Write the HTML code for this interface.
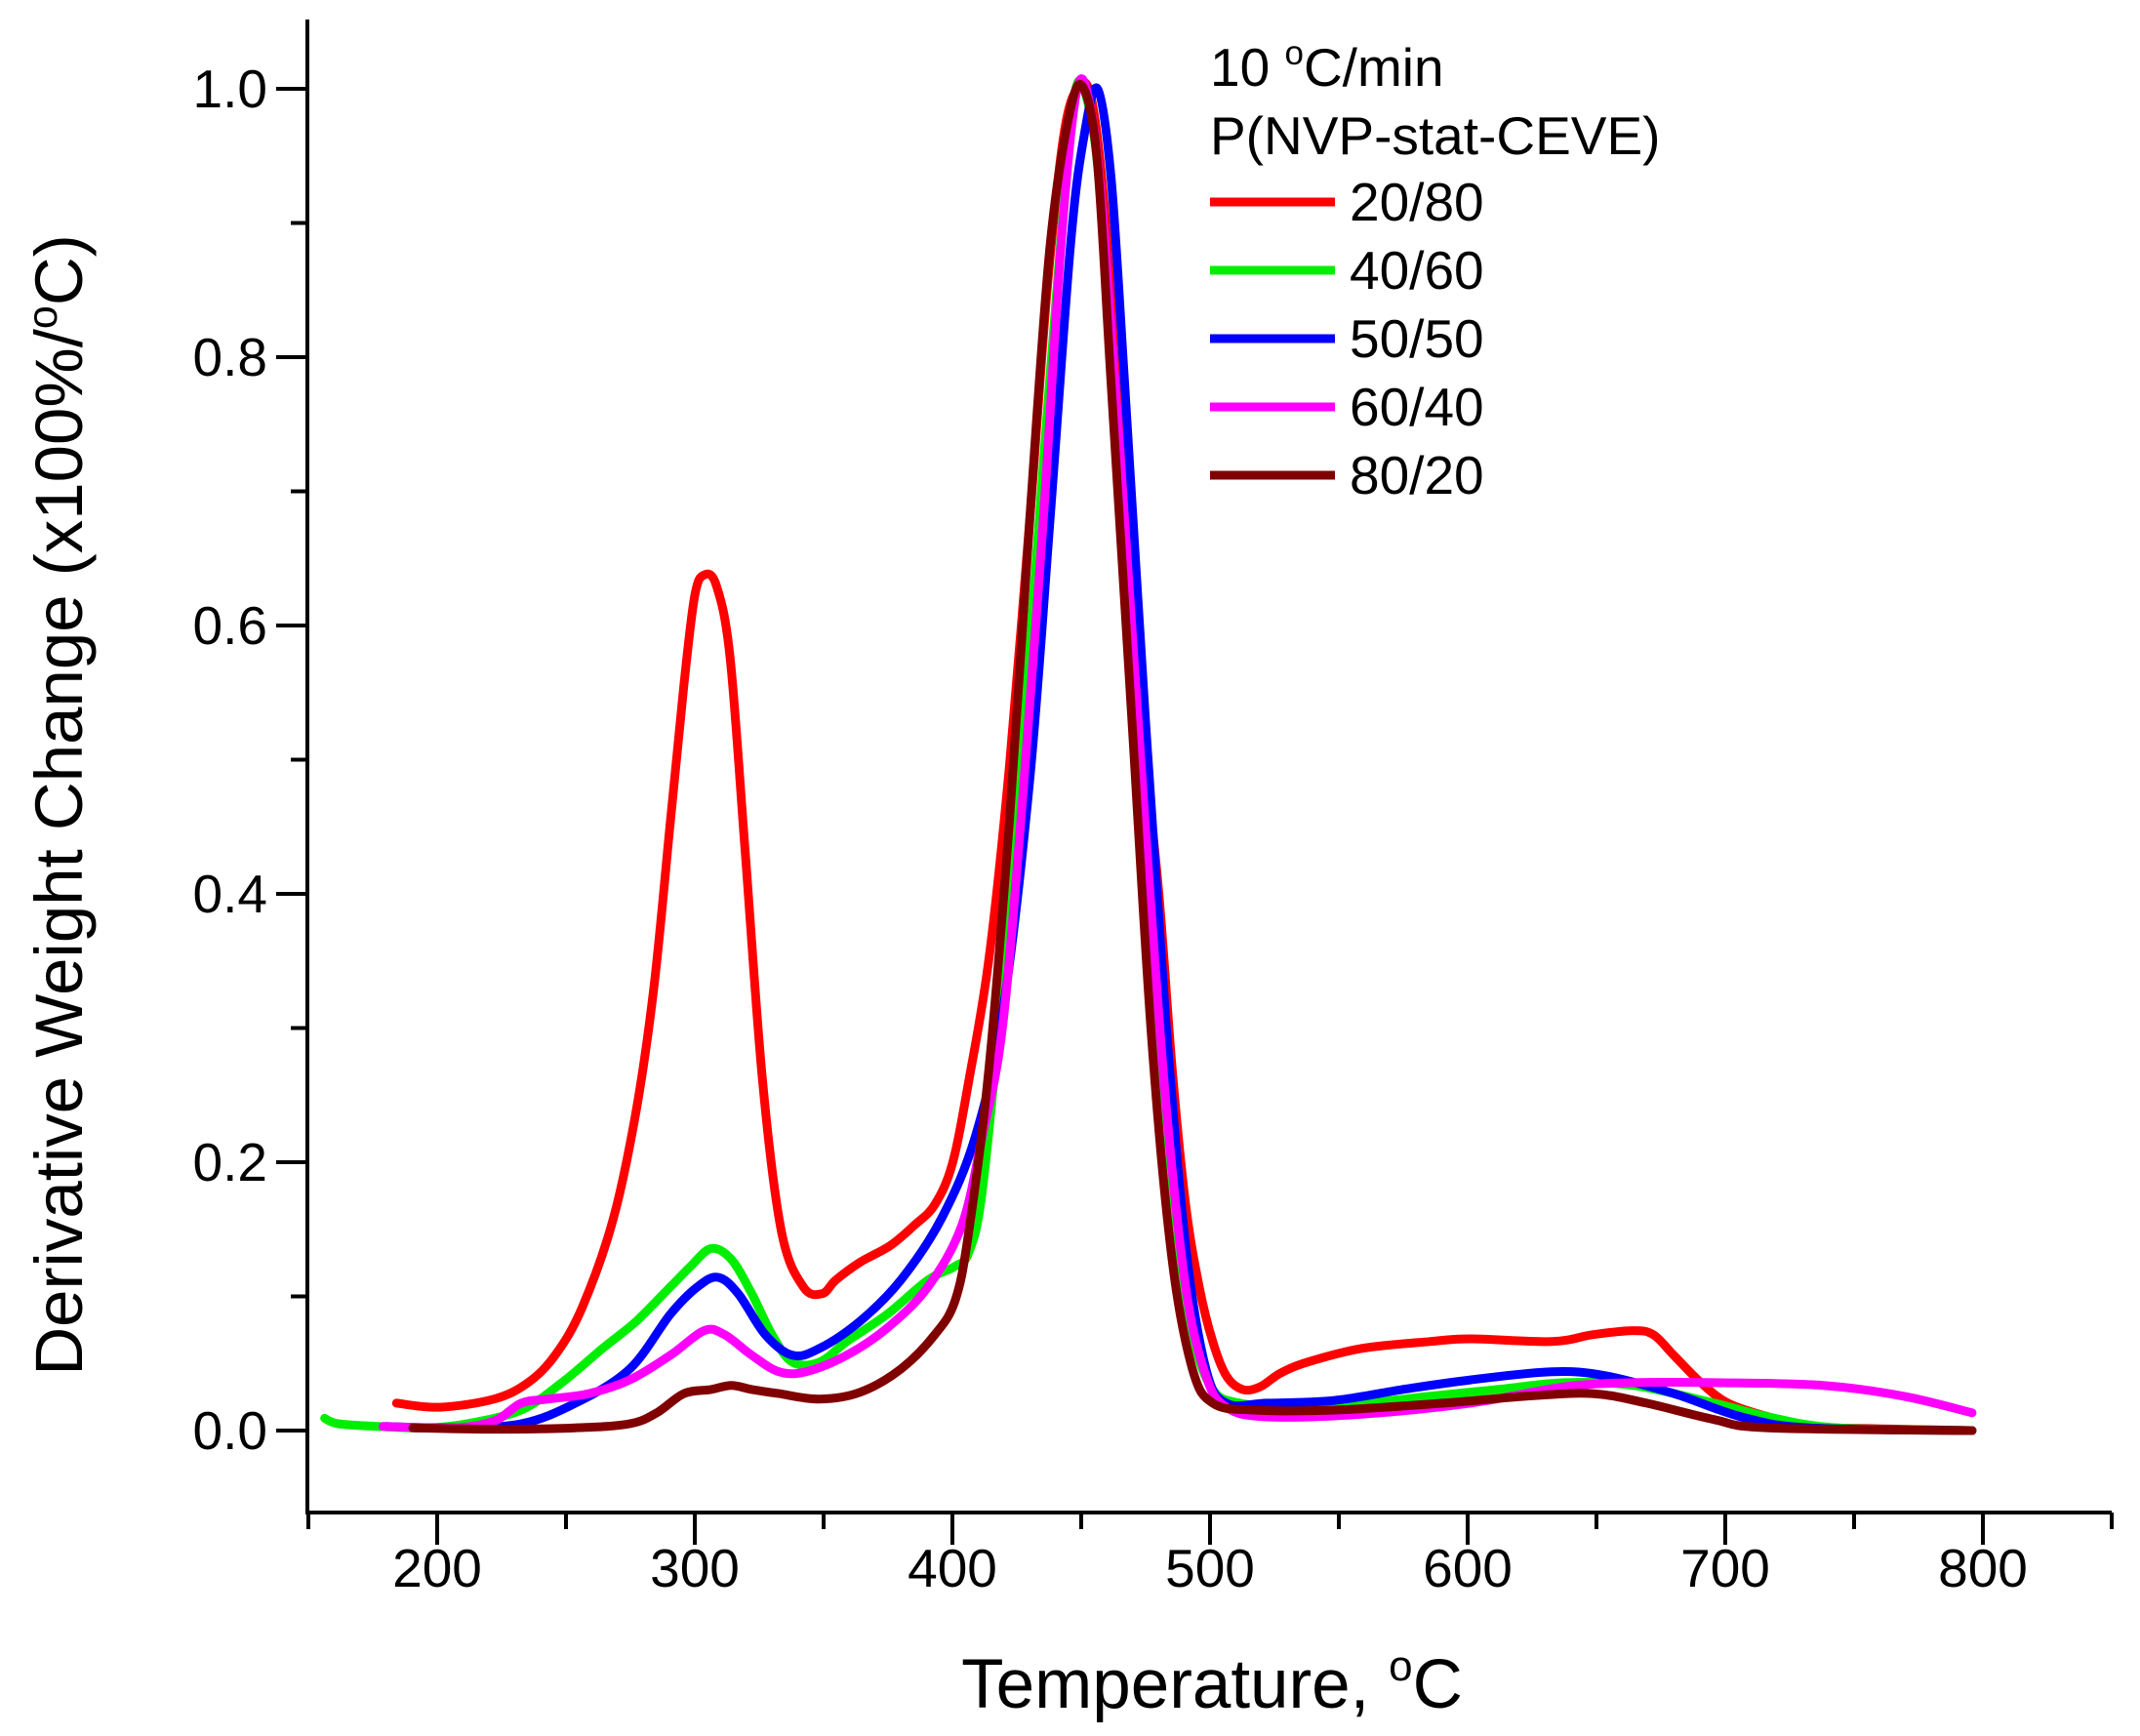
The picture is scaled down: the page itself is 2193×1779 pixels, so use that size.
<!DOCTYPE html>
<html><head><meta charset="utf-8"><style>
html,body{margin:0;padding:0;background:#fff;}
svg{display:block;font-family:"Liberation Sans",Arial,sans-serif;}
</style></head><body>
<svg id="s" width="2193" height="1779" viewBox="0 0 2193 1779" xmlns="http://www.w3.org/2000/svg">
<g stroke="#000" stroke-width="4" fill="none">
<line x1="315" y1="20" x2="315" y2="1552"/>
<line x1="313" y1="1550" x2="2164" y2="1550"/>
</g>
<g id="ticks" stroke="#000" stroke-width="4"></g>
<g id="labels" font-size="55" fill="#000"></g>
<g id="curves" fill="none" stroke-width="9" stroke-linejoin="round" stroke-linecap="round"></g>
<text x="1242" y="1750" font-size="71" text-anchor="middle">Temperature, <tspan font-size="44" dy="-28">o</tspan><tspan dy="28">C</tspan></text>
<text transform="translate(84,825) rotate(-90)" font-size="69" text-anchor="middle">Derivative Weight Change (x100%/<tspan font-size="43" dy="-26">o</tspan><tspan dy="26">C)</tspan></text>
<g font-size="55">
<text x="1240" y="88">10 <tspan font-size="35" dy="-22">o</tspan><tspan dy="22">C/min</tspan></text>
<text x="1240" y="158">P(NVP-stat-CEVE)</text>
</g>
<g id="legend" font-size="55"></g>
</svg>
<script>
var NS="http://www.w3.org/2000/svg";
function el(p,t,a,txt){var e=document.createElementNS(NS,t);for(var k in a)e.setAttribute(k,a[k]);if(txt)e.textContent=txt;p.appendChild(e);return e;}
function X(T){return 448+(T-200)*2.64;}
function Y(v){return 1466-v*1375;}
var tk=document.getElementById('ticks'),lb=document.getElementById('labels');
for(var T=150;T<=850;T+=50){var maj=(T%100==0);el(tk,'line',{x1:X(T),y1:1550,x2:X(T),y2:maj?1583:1567});
 if(maj&&T>=200&&T<=800)el(lb,'text',{x:X(T),y:1626,'text-anchor':'middle'},String(T));}
for(var i=0;i<=10;i++){var v=i/10,maj=(i%2==0);el(tk,'line',{x1:maj?283:298,y1:Y(v),x2:315,y2:Y(v)});
 if(maj)el(lb,'text',{x:274,y:Y(v)+19,'text-anchor':'end'},v.toFixed(1));}
function conv(pts){return pts.map(function(p){var T=200+(p[0]-318)/1.9,v=(1045-p[1])/980;return [X(T),Y(v)];});}
function path(pts){var p=conv(pts),d="M"+p[0][0].toFixed(1)+","+p[0][1].toFixed(1);
 for(var i=0;i<p.length-1;i++){var p0=p[i-1]||p[i],p1=p[i],p2=p[i+1],p3=p[i+2]||p2;
 d+=" C"+(p1[0]+(p2[0]-p0[0])/6).toFixed(1)+","+(p1[1]+(p2[1]-p0[1])/6).toFixed(1)+" "+(p2[0]-(p3[0]-p1[0])/6).toFixed(1)+","+(p2[1]-(p3[1]-p1[1])/6).toFixed(1)+" "+p2[0].toFixed(1)+","+p2[1].toFixed(1);}
 return d;}
var C={
"#ff0000":[[288,1025],[320,1028],[360,1022],[385,1010],[405,990],[425,955],[448,890],[465,810],[478,720],[490,600],[500,500],[508,435],[515,420],[524,428],[534,480],[545,620],[558,790],[572,900],[588,940],[602,945],[612,935],[630,922],[652,910],[670,895],[685,880],[698,850],[710,790],[725,700],[740,560],[755,380],[768,210],[780,100],[790,65],[800,70],[810,150],[820,300],[835,500],[850,650],[860,780],[870,880],[880,940],[890,980],[900,1005],[912,1015],[925,1013],[940,1003],[960,995],[1000,985],[1050,980],[1080,978],[1140,980],[1170,975],[1200,972],[1215,975],[1230,990],[1250,1010],[1270,1025],[1300,1035],[1330,1042],[1400,1044],[1450,1045]],
"#00ee00":[[235,1036],[245,1040],[275,1042],[310,1043],[340,1040],[380,1030],[410,1010],[440,985],[465,965],[490,940],[505,925],[520,912],[535,920],[550,945],[565,975],[580,995],[600,995],[620,980],[650,960],[680,935],[700,925],[710,915],[720,870],[735,720],[750,540],[765,340],[780,150],[788,70],[795,65],[805,120],[815,260],[830,500],[845,720],[860,890],[875,975],[890,1015],[910,1025],[950,1028],[1000,1025],[1050,1020],[1100,1015],[1150,1010],[1200,1012],[1260,1025],[1300,1035],[1350,1043],[1450,1045]],
"#0000ff":[[280,1042],[330,1043],[380,1040],[420,1025],[460,1000],[490,960],[510,940],[525,933],[540,945],[560,975],[580,990],[600,985],[630,965],[660,935],[690,890],[715,830],[735,740],[755,570],[770,380],[785,180],[795,100],[805,65],[815,130],[825,280],[840,520],[855,740],[870,910],[885,1000],[900,1025],[930,1025],[980,1023],[1030,1015],[1080,1008],[1140,1002],[1180,1005],[1230,1018],[1280,1035],[1330,1043],[1450,1045]],
"#ff00ff":[[278,1042],[330,1043],[360,1038],[380,1025],[400,1022],[430,1018],[460,1008],[490,990],[515,972],[530,975],[550,990],[570,1002],[590,1002],[620,990],[650,970],[680,940],[705,895],[720,830],[735,750],[750,580],[765,380],[778,180],[790,65],[800,80],[810,170],[825,380],[840,600],[855,800],[870,940],[885,1005],[900,1028],[930,1035],[1000,1033],[1080,1025],[1150,1013],[1200,1010],[1260,1010],[1340,1012],[1400,1020],[1450,1032]],
"#800000":[[300,1043],[360,1044],[420,1043],[460,1040],[480,1032],[500,1018],[520,1015],[535,1012],[550,1015],[570,1018],[600,1022],[630,1017],[660,1000],[685,975],[700,950],[710,900],[725,780],[740,600],[755,380],[770,180],[785,80],[795,65],[805,120],[815,280],[830,520],[845,760],[860,920],[875,1000],[890,1025],[920,1030],[980,1030],[1060,1025],[1120,1020],[1170,1018],[1210,1025],[1260,1037],[1300,1043],[1450,1045]]
};
var cg=document.getElementById('curves');
for(var c in C)el(cg,'path',{d:path(C[c]),stroke:c});
var lg=document.getElementById('legend'),names=["20/80","40/60","50/50","60/40","80/20"],cols=Object.keys(C);
for(var i=0;i<5;i++){var y=207+i*70;el(lg,'line',{x1:1240,y1:y,x2:1368,y2:y,stroke:cols[i],'stroke-width':9});
 el(lg,'text',{x:1383,y:y+19},names[i]);}
</script>
</body></html>
